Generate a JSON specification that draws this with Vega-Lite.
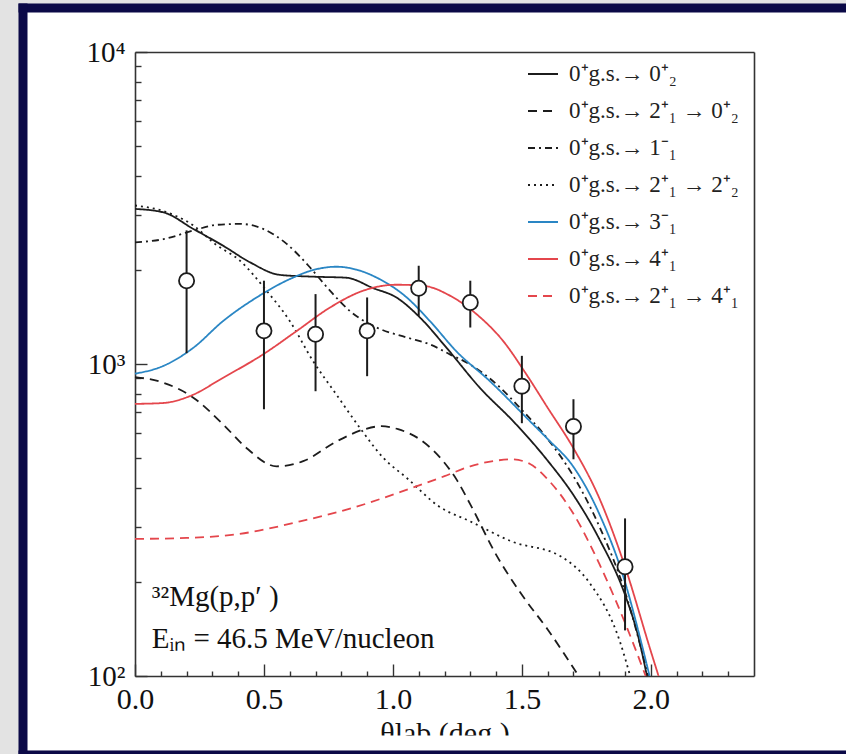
{
  "$schema": "https://vega.github.io/schema/vega-lite/v6.json",
  "width": 819,
  "height": 738,
  "autosize": {"type": "none"},
  "padding": {"left": 27, "top": 12, "right": 0, "bottom": 4},
  "background": "#e3e3e3",
  "config": {
    "view": {"fill": "#ffffff", "stroke": null},
    "font": "Liberation Serif",
    "axis": {"domainColor": "#333333", "domainWidth": 1.6, "tickColor": "#333333", "tickWidth": 1.4, "labelFont": "Liberation Serif", "labelColor": "#111111", "grid": false, "titleFont": "Liberation Serif", "titleColor": "#111111", "titleFontWeight": "normal", "labelFlush": false, "labelOverlap": false},
    "legend": {"orient": "none", "legendX": 500, "legendY": 46, "labelFont": "Liberation Serif", "labelFontSize": 23, "labelColor": "#222222", "labelLimit": 320, "symbolType": "stroke", "symbolSize": 900, "symbolStrokeWidth": 1.8, "labelOffset": 10, "rowPadding": 9, "padding": 0, "title": null}
  },
  "datasets": {
    "curves": [
      {"s": "0⁺g.s.→ 0⁺₂", "x": 0, "v": 3141}, {"s": "0⁺g.s.→ 0⁺₂", "x": 0.11, "v": 3062}, {"s": "0⁺g.s.→ 0⁺₂", "x": 0.226, "v": 2710}, {"s": "0⁺g.s.→ 0⁺₂", "x": 0.342, "v": 2393}, {"s": "0⁺g.s.→ 0⁺₂", "x": 0.446, "v": 2118}, {"s": "0⁺g.s.→ 0⁺₂", "x": 0.562, "v": 1930}, {"s": "0⁺g.s.→ 0⁺₂", "x": 0.691, "v": 1905}, {"s": "0⁺g.s.→ 0⁺₂", "x": 0.82, "v": 1890}, {"s": "0⁺g.s.→ 0⁺₂", "x": 0.924, "v": 1750}, {"s": "0⁺g.s.→ 0⁺₂", "x": 1.014, "v": 1633}, {"s": "0⁺g.s.→ 0⁺₂", "x": 1.105, "v": 1409}, {"s": "0⁺g.s.→ 0⁺₂", "x": 1.208, "v": 1127}, {"s": "0⁺g.s.→ 0⁺₂", "x": 1.337, "v": 839}, {"s": "0⁺g.s.→ 0⁺₂", "x": 1.466, "v": 656}, {"s": "0⁺g.s.→ 0⁺₂", "x": 1.531, "v": 573}, {"s": "0⁺g.s.→ 0⁺₂", "x": 1.6, "v": 490}, {"s": "0⁺g.s.→ 0⁺₂", "x": 1.7, "v": 380}, {"s": "0⁺g.s.→ 0⁺₂", "x": 1.8, "v": 275}, {"s": "0⁺g.s.→ 0⁺₂", "x": 1.9, "v": 182}, {"s": "0⁺g.s.→ 0⁺₂", "x": 1.95, "v": 135}, {"s": "0⁺g.s.→ 0⁺₂", "x": 1.985, "v": 100},
      {"s": "0⁺g.s.→ 2⁺₁ → 0⁺₂", "x": 0, "v": 908}, {"s": "0⁺g.s.→ 2⁺₁ → 0⁺₂", "x": 0.11, "v": 871}, {"s": "0⁺g.s.→ 2⁺₁ → 0⁺₂", "x": 0.226, "v": 780}, {"s": "0⁺g.s.→ 2⁺₁ → 0⁺₂", "x": 0.342, "v": 640}, {"s": "0⁺g.s.→ 2⁺₁ → 0⁺₂", "x": 0.433, "v": 537}, {"s": "0⁺g.s.→ 2⁺₁ → 0⁺₂", "x": 0.549, "v": 470}, {"s": "0⁺g.s.→ 2⁺₁ → 0⁺₂", "x": 0.652, "v": 488}, {"s": "0⁺g.s.→ 2⁺₁ → 0⁺₂", "x": 0.782, "v": 565}, {"s": "0⁺g.s.→ 2⁺₁ → 0⁺₂", "x": 0.89, "v": 618}, {"s": "0⁺g.s.→ 2⁺₁ → 0⁺₂", "x": 0.955, "v": 632}, {"s": "0⁺g.s.→ 2⁺₁ → 0⁺₂", "x": 1.02, "v": 618}, {"s": "0⁺g.s.→ 2⁺₁ → 0⁺₂", "x": 1.105, "v": 573}, {"s": "0⁺g.s.→ 2⁺₁ → 0⁺₂", "x": 1.195, "v": 488}, {"s": "0⁺g.s.→ 2⁺₁ → 0⁺₂", "x": 1.247, "v": 426}, {"s": "0⁺g.s.→ 2⁺₁ → 0⁺₂", "x": 1.3, "v": 355}, {"s": "0⁺g.s.→ 2⁺₁ → 0⁺₂", "x": 1.4, "v": 245}, {"s": "0⁺g.s.→ 2⁺₁ → 0⁺₂", "x": 1.5, "v": 182}, {"s": "0⁺g.s.→ 2⁺₁ → 0⁺₂", "x": 1.6, "v": 141}, {"s": "0⁺g.s.→ 2⁺₁ → 0⁺₂", "x": 1.72, "v": 100},
      {"s": "0⁺g.s.→ 1⁻₁", "x": 0, "v": 2455}, {"s": "0⁺g.s.→ 1⁻₁", "x": 0.11, "v": 2512}, {"s": "0⁺g.s.→ 1⁻₁", "x": 0.227, "v": 2679}, {"s": "0⁺g.s.→ 1⁻₁", "x": 0.317, "v": 2793}, {"s": "0⁺g.s.→ 1⁻₁", "x": 0.407, "v": 2812}, {"s": "0⁺g.s.→ 1⁻₁", "x": 0.497, "v": 2710}, {"s": "0⁺g.s.→ 1⁻₁", "x": 0.588, "v": 2427}, {"s": "0⁺g.s.→ 1⁻₁", "x": 0.678, "v": 2042}, {"s": "0⁺g.s.→ 1⁻₁", "x": 0.756, "v": 1718}, {"s": "0⁺g.s.→ 1⁻₁", "x": 0.833, "v": 1479}, {"s": "0⁺g.s.→ 1⁻₁", "x": 0.937, "v": 1309}, {"s": "0⁺g.s.→ 1⁻₁", "x": 1.054, "v": 1216}, {"s": "0⁺g.s.→ 1⁻₁", "x": 1.143, "v": 1156}, {"s": "0⁺g.s.→ 1⁻₁", "x": 1.221, "v": 1074}, {"s": "0⁺g.s.→ 1⁻₁", "x": 1.298, "v": 998}, {"s": "0⁺g.s.→ 1⁻₁", "x": 1.402, "v": 861}, {"s": "0⁺g.s.→ 1⁻₁", "x": 1.492, "v": 724}, {"s": "0⁺g.s.→ 1⁻₁", "x": 1.6, "v": 575}, {"s": "0⁺g.s.→ 1⁻₁", "x": 1.7, "v": 437}, {"s": "0⁺g.s.→ 1⁻₁", "x": 1.8, "v": 302}, {"s": "0⁺g.s.→ 1⁻₁", "x": 1.9, "v": 186}, {"s": "0⁺g.s.→ 1⁻₁", "x": 1.99, "v": 100},
      {"s": "0⁺g.s.→ 2⁺₁ → 2⁺₂", "x": 0, "v": 3221}, {"s": "0⁺g.s.→ 2⁺₁ → 2⁺₂", "x": 0.11, "v": 3090}, {"s": "0⁺g.s.→ 2⁺₁ → 2⁺₂", "x": 0.226, "v": 2780}, {"s": "0⁺g.s.→ 2⁺₁ → 2⁺₂", "x": 0.31, "v": 2427}, {"s": "0⁺g.s.→ 2⁺₁ → 2⁺₂", "x": 0.407, "v": 2143}, {"s": "0⁺g.s.→ 2⁺₁ → 2⁺₂", "x": 0.51, "v": 1718}, {"s": "0⁺g.s.→ 2⁺₁ → 2⁺₂", "x": 0.6, "v": 1374}, {"s": "0⁺g.s.→ 2⁺₁ → 2⁺₂", "x": 0.69, "v": 1023}, {"s": "0⁺g.s.→ 2⁺₁ → 2⁺₂", "x": 0.78, "v": 800}, {"s": "0⁺g.s.→ 2⁺₁ → 2⁺₂", "x": 0.872, "v": 624}, {"s": "0⁺g.s.→ 2⁺₁ → 2⁺₂", "x": 0.963, "v": 500}, {"s": "0⁺g.s.→ 2⁺₁ → 2⁺₂", "x": 1.054, "v": 431}, {"s": "0⁺g.s.→ 2⁺₁ → 2⁺₂", "x": 1.18, "v": 349}, {"s": "0⁺g.s.→ 2⁺₁ → 2⁺₂", "x": 1.3, "v": 313}, {"s": "0⁺g.s.→ 2⁺₁ → 2⁺₂", "x": 1.46, "v": 270}, {"s": "0⁺g.s.→ 2⁺₁ → 2⁺₂", "x": 1.65, "v": 242}, {"s": "0⁺g.s.→ 2⁺₁ → 2⁺₂", "x": 1.76, "v": 200}, {"s": "0⁺g.s.→ 2⁺₁ → 2⁺₂", "x": 1.88, "v": 129}, {"s": "0⁺g.s.→ 2⁺₁ → 2⁺₂", "x": 1.92, "v": 100},
      {"s": "0⁺g.s.→ 3⁻₁", "x": 0, "v": 931}, {"s": "0⁺g.s.→ 3⁻₁", "x": 0.11, "v": 986}, {"s": "0⁺g.s.→ 3⁻₁", "x": 0.226, "v": 1127}, {"s": "0⁺g.s.→ 3⁻₁", "x": 0.342, "v": 1374}, {"s": "0⁺g.s.→ 3⁻₁", "x": 0.471, "v": 1633}, {"s": "0⁺g.s.→ 3⁻₁", "x": 0.6, "v": 1871}, {"s": "0⁺g.s.→ 3⁻₁", "x": 0.7, "v": 2010}, {"s": "0⁺g.s.→ 3⁻₁", "x": 0.78, "v": 2050}, {"s": "0⁺g.s.→ 3⁻₁", "x": 0.86, "v": 2005}, {"s": "0⁺g.s.→ 3⁻₁", "x": 0.937, "v": 1892}, {"s": "0⁺g.s.→ 3⁻₁", "x": 1.054, "v": 1633}, {"s": "0⁺g.s.→ 3⁻₁", "x": 1.143, "v": 1374}, {"s": "0⁺g.s.→ 3⁻₁", "x": 1.247, "v": 1096}, {"s": "0⁺g.s.→ 3⁻₁", "x": 1.376, "v": 881}, {"s": "0⁺g.s.→ 3⁻₁", "x": 1.531, "v": 656}, {"s": "0⁺g.s.→ 3⁻₁", "x": 1.6, "v": 575}, {"s": "0⁺g.s.→ 3⁻₁", "x": 1.7, "v": 468}, {"s": "0⁺g.s.→ 3⁻₁", "x": 1.8, "v": 331}, {"s": "0⁺g.s.→ 3⁻₁", "x": 1.9, "v": 200}, {"s": "0⁺g.s.→ 3⁻₁", "x": 1.95, "v": 141}, {"s": "0⁺g.s.→ 3⁻₁", "x": 1.995, "v": 100},
      {"s": "0⁺g.s.→ 4⁺₁", "x": 0, "v": 745}, {"s": "0⁺g.s.→ 4⁺₁", "x": 0.11, "v": 750}, {"s": "0⁺g.s.→ 4⁺₁", "x": 0.213, "v": 789}, {"s": "0⁺g.s.→ 4⁺₁", "x": 0.342, "v": 904}, {"s": "0⁺g.s.→ 4⁺₁", "x": 0.497, "v": 1074}, {"s": "0⁺g.s.→ 4⁺₁", "x": 0.627, "v": 1276}, {"s": "0⁺g.s.→ 4⁺₁", "x": 0.756, "v": 1517}, {"s": "0⁺g.s.→ 4⁺₁", "x": 0.885, "v": 1718}, {"s": "0⁺g.s.→ 4⁺₁", "x": 1.014, "v": 1795}, {"s": "0⁺g.s.→ 4⁺₁", "x": 1.117, "v": 1782}, {"s": "0⁺g.s.→ 4⁺₁", "x": 1.221, "v": 1656}, {"s": "0⁺g.s.→ 4⁺₁", "x": 1.324, "v": 1445}, {"s": "0⁺g.s.→ 4⁺₁", "x": 1.427, "v": 1186}, {"s": "0⁺g.s.→ 4⁺₁", "x": 1.518, "v": 925}, {"s": "0⁺g.s.→ 4⁺₁", "x": 1.6, "v": 724}, {"s": "0⁺g.s.→ 4⁺₁", "x": 1.7, "v": 537}, {"s": "0⁺g.s.→ 4⁺₁", "x": 1.8, "v": 372}, {"s": "0⁺g.s.→ 4⁺₁", "x": 1.9, "v": 224}, {"s": "0⁺g.s.→ 4⁺₁", "x": 2.0, "v": 120}, {"s": "0⁺g.s.→ 4⁺₁", "x": 2.03, "v": 100},
      {"s": "0⁺g.s.→ 2⁺₁ → 4⁺₁", "x": 0, "v": 275}, {"s": "0⁺g.s.→ 2⁺₁ → 4⁺₁", "x": 0.2, "v": 277}, {"s": "0⁺g.s.→ 2⁺₁ → 4⁺₁", "x": 0.4, "v": 285}, {"s": "0⁺g.s.→ 2⁺₁ → 4⁺₁", "x": 0.64, "v": 313}, {"s": "0⁺g.s.→ 2⁺₁ → 4⁺₁", "x": 0.85, "v": 347}, {"s": "0⁺g.s.→ 2⁺₁ → 4⁺₁", "x": 1.03, "v": 389}, {"s": "0⁺g.s.→ 2⁺₁ → 4⁺₁", "x": 1.2, "v": 437}, {"s": "0⁺g.s.→ 2⁺₁ → 4⁺₁", "x": 1.3, "v": 470}, {"s": "0⁺g.s.→ 2⁺₁ → 4⁺₁", "x": 1.4, "v": 490}, {"s": "0⁺g.s.→ 2⁺₁ → 4⁺₁", "x": 1.46, "v": 495}, {"s": "0⁺g.s.→ 2⁺₁ → 4⁺₁", "x": 1.53, "v": 479}, {"s": "0⁺g.s.→ 2⁺₁ → 4⁺₁", "x": 1.6, "v": 427}, {"s": "0⁺g.s.→ 2⁺₁ → 4⁺₁", "x": 1.7, "v": 331}, {"s": "0⁺g.s.→ 2⁺₁ → 4⁺₁", "x": 1.8, "v": 229}, {"s": "0⁺g.s.→ 2⁺₁ → 4⁺₁", "x": 1.9, "v": 148}, {"s": "0⁺g.s.→ 2⁺₁ → 4⁺₁", "x": 1.98, "v": 100}
    ],
    "points": [
      {"x": 0.2, "v": 1849, "lo": 1083, "hi": 2681},
      {"x": 0.5, "v": 1277, "lo": 716, "hi": 1849},
      {"x": 0.7, "v": 1245, "lo": 818, "hi": 1675},
      {"x": 0.9, "v": 1277, "lo": 914, "hi": 1634},
      {"x": 1.1, "v": 1749, "lo": 1426, "hi": 2065},
      {"x": 1.3, "v": 1574, "lo": 1309, "hi": 1849},
      {"x": 1.5, "v": 849, "lo": 646, "hi": 1062},
      {"x": 1.7, "v": 631, "lo": 495, "hi": 771},
      {"x": 1.9, "v": 224, "lo": 140, "hi": 320}
    ],
    "notes": [
      {"x": 0.065, "v": 179, "t": "³²Mg(p,p′ )"},
      {"x": 0.065, "v": 131, "t": "Eᵢₙ = 46.5 MeV/nucleon"}
    ],
    "frame": [{"a": 0, "b": 0}]
  },
  "layer": [
    {
      "data": {"name": "curves"},
      "mark": {"type": "line", "strokeWidth": 1.8, "interpolate": "monotone"},
      "encoding": {
        "x": {"field": "x", "type": "quantitative", "scale": {"domain": [0, 2.4], "range": [108, 727]},
              "axis": {"orient": "bottom", "offset": -74, "values": [0, 0.5, 1, 1.5, 2], "format": ".1f", "ticks": false, "labelFontSize": 30, "labelPadding": 8, "domain": true, "title": "θlab (deg.)", "titleFontSize": 30, "titlePadding": 4}},
        "y": {"field": "v", "type": "quantitative", "scale": {"type": "log", "domain": [100, 10000], "range": [664, 40]},
              "axis": {"orient": "left", "offset": -108, "values": [100, 1000, 10000], "labelExpr": "datum.value == 100 ? '10²' : datum.value == 1000 ? '10³' : '10⁴'", "ticks": false, "labelFontSize": 29, "labelPadding": 10, "domain": true, "title": null}},
        "color": {"field": "s", "type": "nominal", "sort": null,
                  "scale": {"domain": ["0⁺g.s.→ 0⁺₂", "0⁺g.s.→ 2⁺₁ → 0⁺₂", "0⁺g.s.→ 1⁻₁", "0⁺g.s.→ 2⁺₁ → 2⁺₂", "0⁺g.s.→ 3⁻₁", "0⁺g.s.→ 4⁺₁", "0⁺g.s.→ 2⁺₁ → 4⁺₁"],
                            "range": ["#1c1c1c", "#1c1c1c", "#1c1c1c", "#1c1c1c", "#2a86c4", "#e4464c", "#e4464c"]}},
        "strokeDash": {"field": "s", "type": "nominal", "sort": null,
                  "scale": {"domain": ["0⁺g.s.→ 0⁺₂", "0⁺g.s.→ 2⁺₁ → 0⁺₂", "0⁺g.s.→ 1⁻₁", "0⁺g.s.→ 2⁺₁ → 2⁺₂", "0⁺g.s.→ 3⁻₁", "0⁺g.s.→ 4⁺₁", "0⁺g.s.→ 2⁺₁ → 4⁺₁"],
                            "range": [[1, 0], [9, 6], [7, 4, 2, 4], [2, 4], [1, 0], [1, 0], [9, 6]]}}
      }
    },
    {
      "data": {"name": "points"},
      "mark": {"type": "rule", "strokeWidth": 2, "color": "#1c1c1c"},
      "encoding": {
        "x": {"field": "x", "type": "quantitative", "scale": {"domain": [0, 2.4], "range": [108, 727]},
              "axis": {"orient": "bottom", "offset": -74, "values": [0, 0.5, 1, 1.5, 2], "tickSize": -12, "labels": false, "domain": false, "title": null}},
        "y": {"field": "lo", "type": "quantitative", "scale": {"type": "log", "domain": [100, 10000], "range": [664, 40]},
              "axis": {"orient": "left", "offset": -108, "values": [100, 1000, 10000], "tickSize": -12, "labels": false, "domain": false, "title": null}},
        "y2": {"field": "hi"}
      }
    },
    {
      "data": {"name": "points"},
      "mark": {"type": "point", "shape": "circle", "size": 230, "filled": false, "fill": "#ffffff", "fillOpacity": 1, "stroke": "#1c1c1c", "strokeWidth": 1.8, "opacity": 1},
      "encoding": {
        "x": {"field": "x", "type": "quantitative", "scale": {"domain": [0, 2.4], "range": [108, 727]},
              "axis": {"orient": "bottom", "offset": -74, "values": [0.1, 0.2, 0.3, 0.4, 0.6, 0.7, 0.8, 0.9, 1.1, 1.2, 1.3, 1.4, 1.6, 1.7, 1.8, 1.9, 2.1, 2.2, 2.3], "tickSize": -5, "labels": false, "domain": false, "title": null}},
        "y": {"field": "v", "type": "quantitative", "scale": {"type": "log", "domain": [100, 10000], "range": [664, 40]},
              "axis": {"orient": "left", "offset": -108, "values": [200, 300, 400, 500, 600, 700, 800, 900, 2000, 3000, 4000, 5000, 6000, 7000, 8000, 9000], "tickSize": -6, "labels": false, "domain": false, "title": null}}
      }
    },
    {
      "data": {"name": "notes"},
      "mark": {"type": "text", "align": "left", "baseline": "middle", "fontSize": 29, "font": "Liberation Serif", "color": "#111111"},
      "encoding": {
        "x": {"field": "x", "type": "quantitative", "scale": {"domain": [0, 2.4], "range": [108, 727]},
              "axis": {"orient": "top", "offset": -40, "ticks": false, "labels": false, "domain": true, "title": null}},
        "y": {"field": "v", "type": "quantitative", "scale": {"type": "log", "domain": [100, 10000], "range": [664, 40]},
              "axis": {"orient": "right", "offset": -92, "ticks": false, "labels": false, "domain": true, "title": null}},
        "text": {"field": "t"}
      }
    },
    {
      "data": {"name": "frame"},
      "mark": {"type": "point", "opacity": 0},
      "encoding": {
        "x": {"field": "a", "type": "quantitative", "scale": {"domain": [0, 1], "range": [-9, 840]},
              "axis": {"orient": "top", "offset": 4.5, "ticks": false, "labels": false, "domain": true, "domainColor": "#0b0947", "domainWidth": 9, "title": null, "zindex": 2}},
        "y": {"field": "b", "type": "quantitative", "scale": {"domain": [0, 1], "range": [745, -9]},
              "axis": {"orient": "left", "offset": 4.5, "ticks": false, "labels": false, "domain": true, "domainColor": "#0b0947", "domainWidth": 9, "title": null, "zindex": 2}}
      }
    },
    {
      "data": {"name": "frame"},
      "mark": {"type": "point", "opacity": 0},
      "encoding": {
        "x": {"field": "a", "type": "quantitative", "scale": {"domain": [0, 1], "range": [-9, 840]},
              "axis": {"orient": "bottom", "offset": 2, "ticks": false, "labels": false, "domain": true, "domainColor": "#0b0947", "domainWidth": 4, "title": null, "zindex": 2}},
        "y": {"field": "b", "type": "quantitative", "scale": {"domain": [0, 1], "range": [745, -9]}, "axis": null}
      }
    },
    {
      "data": {"name": "frame"},
      "mark": {"type": "point", "opacity": 0},
      "encoding": {
        "x": {"field": "a", "type": "quantitative", "scale": {"domain": [0, 1], "range": [0, 830]},
              "axis": {"orient": "bottom", "offset": -7.5, "ticks": false, "labels": false, "domain": true, "domainColor": "#ffffff", "domainWidth": 15, "title": null, "zindex": 1}},
        "y": {"field": "b", "type": "quantitative", "scale": {"domain": [0, 1], "range": [745, -9]}, "axis": null}
      }
    }
  ],
  "resolve": {"scale": {"x": "independent", "y": "independent"}, "axis": {"x": "independent", "y": "independent"}}
}
